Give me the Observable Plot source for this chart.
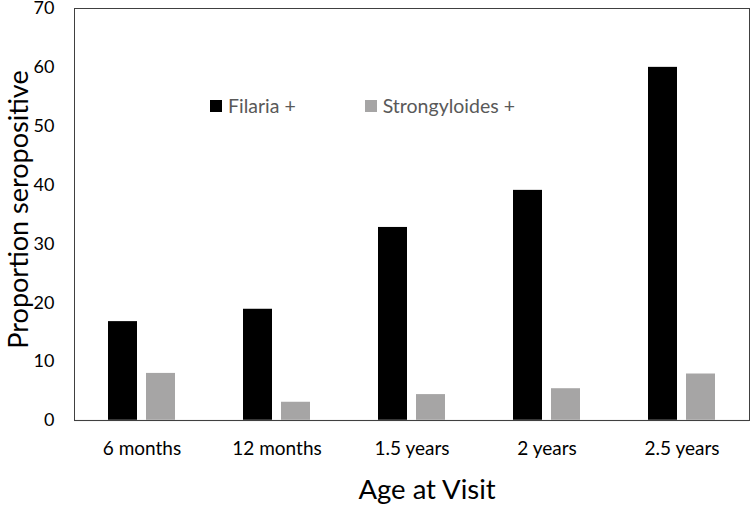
<!DOCTYPE html>
<html>
<head>
<meta charset="utf-8">
<script src="https://cdn.jsdelivr.net/npm/d3@7"></script>
<script src="https://cdn.jsdelivr.net/npm/@observablehq/plot@0.6"></script>
<style>
  body { margin: 0; background: #fff; }
  #wrap { position: relative; width: 752px; height: 505px; }
  #legend { position: absolute; left: 210px; top: 94px; display: flex; align-items: center;
            font-family: Lato, "Open Sans", sans-serif; font-size: 19.5px; color: #595959; }
  #legend .item { display: flex; align-items: center; }
  #legend .sw { width: 12px; height: 12px; margin-right: 6px; }
</style>
</head>
<body>
<div id="wrap"></div>
<script>
const categories = ["6 months", "12 months", "1.5 years", "2 years", "2.5 years"];
const series = ["Filaria +", "Strongyloides +"];
const filaria = [16.8, 18.9, 32.8, 39.1, 60.0];
const strongyloides = [8.0, 3.1, 4.4, 5.4, 7.9];
const yTicks = [0, 10, 20, 30, 40, 50, 60, 70];
const colors = ["#000000", "#a6a5a5"];

const data = categories.flatMap((c, i) => [
  {age: c, series: series[0], value: filaria[i]},
  {age: c, series: series[1], value: strongyloides[i]}
]);

const chart = Plot.plot({
  width: 752,
  height: 505,
  marginLeft: 72,
  marginRight: 1,
  marginTop: 8,
  marginBottom: 85,
  style: {fontFamily: "Lato, 'Open Sans', sans-serif", fontSize: "19px", color: "#000", background: "white"},
  fx: {domain: categories, padding: 0, axis: "bottom", tickSize: 0, tickPadding: 21,
       label: "Age at Visit", labelAnchor: "center", labelOffset: 78, labelArrow: false},
  x: {domain: series, axis: null, paddingInner: 0.23, paddingOuter: 0.856},
  y: {domain: [0, 70], ticks: yTicks, tickSize: 0, tickPadding: 20,
      label: "Proportion seropositive", labelAnchor: "center", labelOffset: 66, labelArrow: false},
  color: {domain: series, range: colors},
  marks: [
    Plot.barY(data, {fx: "age", x: "series", y: "value", fill: "series"}),
    Plot.ruleY([0], {stroke: "#d9d9d9", strokeWidth: 1.5}),
    Plot.frame({facet: "super", stroke: "#404040"})
  ]
});

d3.select(chart).selectAll("text")
  .filter(function() { return this.textContent.startsWith("Age at Visit"); })
  .style("font-size", "27.5px")
  .attr("dx", 15);
d3.select(chart).selectAll("text")
  .filter(function() { return this.textContent.startsWith("Proportion seropositive"); })
  .style("font-size", "27px")
  .attr("dx", 5);
d3.select(chart).selectAll("text")
  .filter(function() { return yTicks.map(String).includes(this.textContent); })
  .style("font-size", "18px");

const wrap = document.getElementById("wrap");
wrap.appendChild(chart);

const legend = document.createElement("div");
legend.id = "legend";
series.forEach((s, i) => {
  const item = document.createElement("div");
  item.className = "item";
  if (i > 0) item.style.marginLeft = "69px";
  const sw = document.createElement("span");
  sw.className = "sw";
  sw.style.background = colors[i];
  const t = document.createElement("span");
  t.textContent = s;
  item.appendChild(sw);
  item.appendChild(t);
  legend.appendChild(item);
});
wrap.appendChild(legend);
</script>
</body>
</html>
